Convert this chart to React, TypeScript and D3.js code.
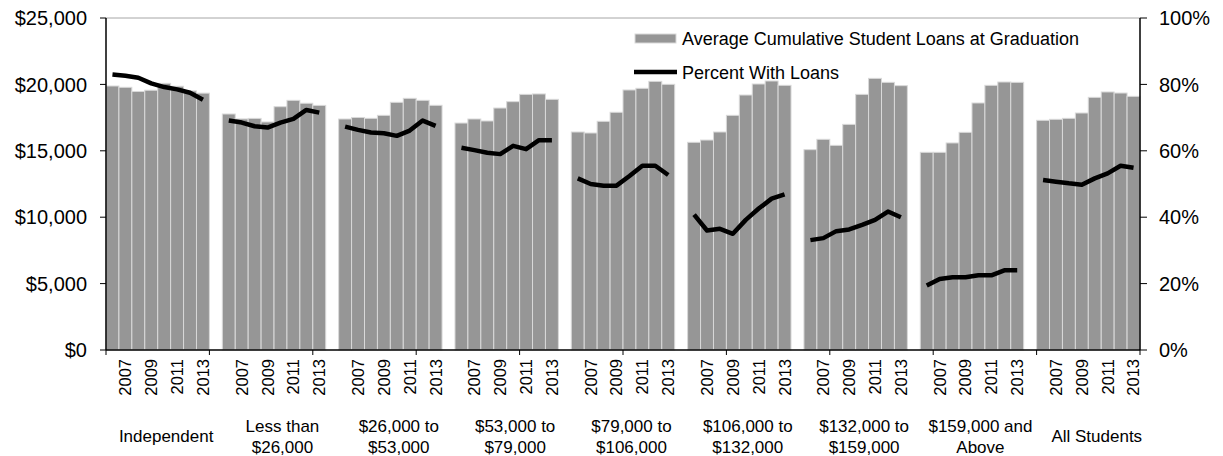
import React from "react";
import * as d3 from "d3";

const years = ["2006", "2007", "2008", "2009", "2010", "2011", "2012", "2013"];
const groupLabels: string[][] = [
  ["Independent"],
  ["Less than", "$26,000"],
  ["$26,000 to", "$53,000"],
  ["$53,000 to", "$79,000"],
  ["$79,000 to", "$106,000"],
  ["$106,000 to", "$132,000"],
  ["$132,000 to", "$159,000"],
  ["$159,000 and", "Above"],
  ["All Students"],
];

const loansIndependent = [19880, 19780, 19470, 19560, 20080, 19860, 19510, 19340];
const loansUnder26k = [17770, 17400, 17440, 17170, 18320, 18800, 18580, 18420];
const loans26to53k = [17395, 17510, 17445, 17670, 18650, 18950, 18800, 18425];
const loans53to79k = [17090, 17395, 17245, 18220, 18700, 19250, 19280, 18875];
const loans79to106k = [16415, 16340, 17220, 17900, 19580, 19705, 20230, 20005];
const loans106to132k = [15640, 15810, 16415, 17670, 19200, 20030, 20255, 19930];
const loans132to159k = [15085, 15865, 15410, 16990, 19250, 20455, 20155, 19905];
const loans159kUp = [14885, 14885, 15590, 16390, 18600, 19930, 20180, 20155];
const loansAll = [17295, 17370, 17445, 17845, 19025, 19430, 19350, 19100];

const pctIndependent = [83.0, 82.6, 82.0, 80.3, 79.2, 78.5, 77.5, 75.4];
const pctUnder26k = [69.1, 68.5, 67.4, 67.0, 68.5, 69.6, 72.3, 71.5];
const pct26to53k = [67.3, 66.3, 65.5, 65.3, 64.5, 66.1, 69.1, 67.5];
const pct53to79k = [60.9, 60.2, 59.4, 59.0, 61.5, 60.5, 63.2, 63.2];
const pct79to106k = [51.7, 50.0, 49.5, 49.5, 52.4, 55.5, 55.5, 52.7];
const pct106to132k = [40.8, 36.0, 36.5, 35.0, 39.2, 42.6, 45.6, 46.9];
const pct132to159k = [33.1, 33.7, 35.8, 36.3, 37.7, 39.2, 41.7, 40.0];
const pct159kUp = [19.4, 21.4, 21.9, 21.9, 22.5, 22.5, 24.0, 24.0];
const pctAll = [51.2, 50.7, 50.2, 49.8, 51.7, 53.2, 55.5, 54.9];

const loansByGroup = [loansIndependent, loansUnder26k, loans26to53k, loans53to79k, loans79to106k, loans106to132k, loans132to159k, loans159kUp, loansAll];
const pctByGroup = [pctIndependent, pctUnder26k, pct26to53k, pct53to79k, pct79to106k, pct106to132k, pct132to159k, pct159kUp, pctAll];

const leftTicks = [0, 5000, 10000, 15000, 20000, 25000];
const rightTicks = [0, 20, 40, 60, 80, 100];
const labeledYears = ["2007", "2009", "2011", "2013"];

const W = 1223;
const H = 456;
const FONT = "'Liberation Sans', Arial, Helvetica, sans-serif";

export default function App() {
  const left = 106;
  const right = 1140;
  const top = 18;
  const bottom = 350;
  const perGroup = years.length + 1;
  const nCats = groupLabels.length * perGroup - 1;
  const catIdx = d3.range(nCats);
  const x = d3.scaleBand<number>().domain(catIdx).range([left, right]).paddingInner(0).paddingOuter(0);
  const bw = x.bandwidth();
  const yL = d3.scaleLinear().domain([0, 25000]).range([bottom, top]);
  const yR = d3.scaleLinear().domain([0, 100]).range([bottom, top]);
  const fmt = (v: number) => "$" + d3.format(",")(v);

  const line = d3
    .line<[number, number]>()
    .x((d) => d[0])
    .y((d) => d[1]);

  const tickPositions: number[] = [];
  for (let k = 0; k * years.length < nCats; k++) tickPositions.push(x(k * years.length) as number);
  tickPositions.push(right);

  return (
    <svg width={W} height={H} style={{ position: "absolute", left: 0, top: 0, background: "#fff" }} fontFamily={FONT}>
      {/* top border line */}
      <line x1={left} x2={right} y1={top} y2={top} stroke="#a6a6a6" strokeWidth={1} />
      {/* bars */}
      {loansByGroup.map((vals, g) =>
        vals.map((v, i) => {
          const xi = x(g * perGroup + i) as number;
          return (
            <rect key={`b${g}-${i}`} x={xi} y={yL(v)} width={bw} height={bottom - yL(v)} fill="#969696" stroke="#d9d9d9" strokeWidth={1} />
          );
        })
      )}
      {/* lines */}
      {pctByGroup.map((vals, g) => {
        const pts: [number, number][] = vals.map((v, i) => [(x(g * perGroup + i) as number) + bw / 2, yR(v)]);
        return <path key={`l${g}`} d={line(pts) || ""} fill="none" stroke="#000" strokeWidth={4.5} strokeLinejoin="round" strokeLinecap="butt" />;
      })}
      {/* axes */}
      <line x1={left} x2={left} y1={top} y2={bottom} stroke="#000" strokeWidth={1.5} />
      <line x1={right} x2={right} y1={top} y2={bottom} stroke="#000" strokeWidth={1.5} />
      <line x1={left} x2={right} y1={bottom} y2={bottom} stroke="#000" strokeWidth={1.5} />
      {leftTicks.map((t) => (
        <g key={`lt${t}`}>
          <line x1={left - 6} x2={left} y1={yL(t)} y2={yL(t)} stroke="#000" strokeWidth={1} />
          <text x={87} y={yL(t)} dy="0.36em" textAnchor="end" fontSize={20} fill="#000">
            {fmt(t)}
          </text>
        </g>
      ))}
      {rightTicks.map((t) => (
        <g key={`rt${t}`}>
          <line x1={right} x2={right + 7} y1={yR(t)} y2={yR(t)} stroke="#000" strokeWidth={1} />
          <text x={1159} y={yR(t)} dy="0.36em" textAnchor="start" fontSize={20} fill="#000">
            {t + "%"}
          </text>
        </g>
      ))}
      {tickPositions.map((p, k) => (
        <line key={`bt${k}`} x1={p} x2={p} y1={bottom} y2={bottom + 5} stroke="#000" strokeWidth={1} />
      ))}
      {/* year labels */}
      {groupLabels.map((_, g) =>
        years.map((yr, i) =>
          labeledYears.includes(yr) ? (
            <text
              key={`y${g}-${i}`}
              transform={`translate(${(x(g * perGroup + i) as number) + bw / 2},${359}) rotate(-90)`}
              textAnchor="end"
              dy="0.36em"
              fontSize={16.5}
              fill="#000"
            >
              {yr}
            </text>
          ) : null
        )
      )}
      {/* group labels */}
      {groupLabels.map((lines, g) => {
        const x0 = x(g * perGroup) as number;
        const cx = x0 + (bw * perGroup) / 2 + 2;
        const n = lines.length;
        return (
          <text key={`g${g}`} textAnchor="middle" fontSize={17} fill="#000">
            {lines.map((ln, j) => (
              <tspan key={j} x={cx} y={442 + (j - (n - 1) / 2) * 21}>
                {ln}
              </tspan>
            ))}
          </text>
        );
      })}
      {/* legend */}
      <rect x={635} y={34} width={41} height={9} fill="#969696" stroke="#d9d9d9" strokeWidth={1} />
      <text x={682} y={45} fontSize={18} fill="#000">
        Average Cumulative Student Loans at Graduation
      </text>
      <line x1={634} x2={677} y1={72} y2={72} stroke="#000" strokeWidth={4.5} />
      <text x={682} y={79} fontSize={18} fill="#000">
        Percent With Loans
      </text>
    </svg>
  );
}
